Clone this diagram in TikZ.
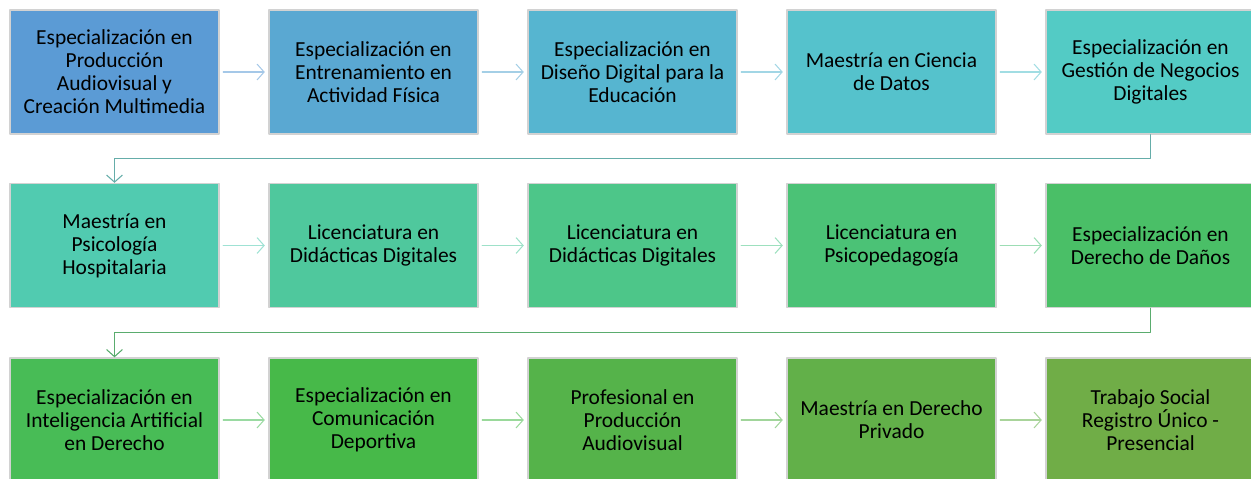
\documentclass[tikz,border=0pt]{standalone}
\usepackage{fontspec}
\setmainfont{Carlito}
\usetikzlibrary{arrows.meta,calc}
\definecolor{c1}{HTML}{5B9BD5}
\definecolor{c2}{HTML}{5AA8D2}
\definecolor{c3}{HTML}{56B5D0}
\definecolor{c4}{HTML}{55C2CC}
\definecolor{c5}{HTML}{53CBC5}
\definecolor{c6}{HTML}{51CBB0}
\definecolor{c7}{HTML}{4FC89D}
\definecolor{c8}{HTML}{4DC689}
\definecolor{c9}{HTML}{4BC276}
\definecolor{c10}{HTML}{4ABF67}
\definecolor{c11}{HTML}{48BC56}
\definecolor{c12}{HTML}{47B949}
\definecolor{c13}{HTML}{55B34A}
\definecolor{c14}{HTML}{62B049}
\definecolor{c15}{HTML}{70AD47}
\begin{document}
\begin{tikzpicture}[x=0.02cm,y=-0.02cm,>={Straight Barb[length=4pt,width=9pt]},
	line join=round, line cap=round,
	prog/.style={draw=gray!35,line width=0.8pt,fill=#1,minimum width=4.18cm,minimum height=2.48cm,
		align=center,font=\fontsize{12.2}{13.1}\selectfont,inner sep=0pt},
	link/.style={->,draw=#1!55!white,line width=0.6pt,shorten >=2pt,shorten <=2pt},
	turn/.style={->,draw=#1,line width=0.6pt}]
	\useasboundingbox (0,0) rectangle (1251,478);
		\node[prog=c1] (b1) at (114.5,72) {Especialización en\\Producción\\Audiovisual y\\Creación Multimedia};
		\node[prog=c2] (b2) at (373.5,72) {Especialización en\\Entrenamiento en\\Actividad Física};
		\node[prog=c3] (b3) at (632.5,72) {Especialización en\\Diseño Digital para la\\Educación};
		\node[prog=c4] (b4) at (891.5,72) {Maestría en Ciencia\\de Datos};
		\node[prog=c5] (b5) at (1150.5,72) {Especialización en\\Gestión de Negocios\\Digitales};
		\node[prog=c6] (b6) at (114.5,245.5) {Maestría en\\Psicología\\Hospitalaria};
		\node[prog=c7] (b7) at (373.5,245.5) {Licenciatura en\\Didácticas Digitales};
		\node[prog=c8] (b8) at (632.5,245.5) {Licenciatura en\\Didácticas Digitales};
		\node[prog=c9] (b9) at (891.5,245.5) {Licenciatura en\\Psicopedagogía};
		\node[prog=c10] (b10) at (1150.5,245.5) {Especialización en\\Derecho de Daños};
		\node[prog=c11] (b11) at (114.5,420) {Especialización en\\Inteligencia Artificial\\en Derecho};
		\node[prog=c12] (b12) at (373.5,420) {Especialización en\\Comunicación\\Deportiva};
		\node[prog=c13] (b13) at (632.5,420) {Profesional en\\Producción\\Audiovisual};
		\node[prog=c14] (b14) at (891.5,420) {Maestría en Derecho\\Privado};
		\node[prog=c15] (b15) at (1150.5,420) {Trabajo Social\\Registro Único -\\Presencial};
		\foreach \a/\b in {1/2,2/3,3/4,4/5,6/7,7/8,8/9,9/10,11/12,12/13,13/14,14/15}
			\draw[link=c\a] (b\a.east) -- (b\b.west);
		\draw[turn=c5!60!gray] (b5.south) |- ($(b5.south)!0.5!(b10.north)$) -| (b6.north);
		\draw[turn=c10!70!gray] (b10.south) |- ($(b10.south)!0.5!(b15.north)$) -| (b11.north);
\end{tikzpicture}
\end{document}
